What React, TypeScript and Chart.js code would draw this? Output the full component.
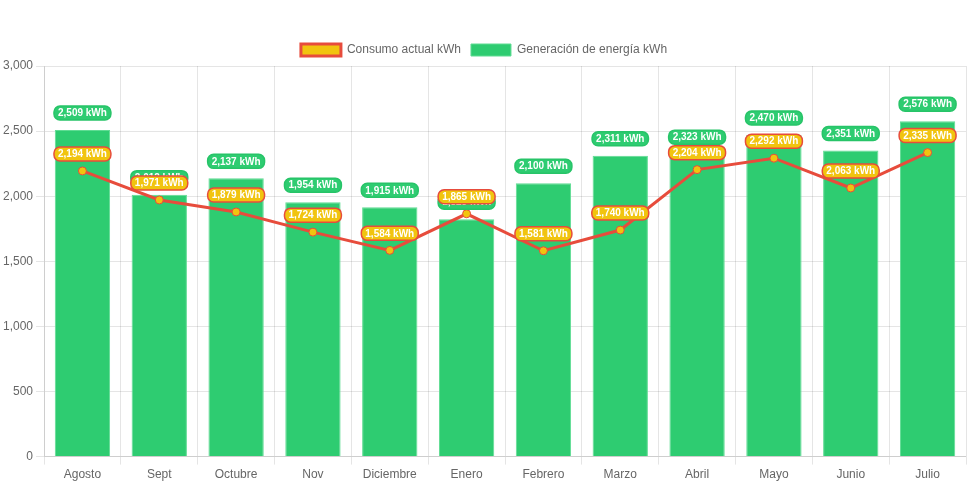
import React, { useEffect, useRef } from "react";
import { Chart, registerables } from "chart.js";

Chart.register(...registerables);

const months = ["Agosto", "Sept", "Octubre", "Nov", "Diciembre", "Enero", "Febrero", "Marzo", "Abril", "Mayo", "Junio", "Julio"];
const consumo = [2194, 1971, 1879, 1724, 1584, 1865, 1581, 1740, 2204, 2292, 2063, 2335];
const generacion = [2509, 2012, 2137, 1954, 1915, 1823, 2100, 2311, 2323, 2470, 2351, 2576];

const fmt = (v: number) => v.toLocaleString("en-US") + " kWh";

const labelPlugin = {
  id: "pillLabels",
  afterDatasetsDraw(chart: any) {
    const ctx = chart.ctx as CanvasRenderingContext2D;
    const order = [1, 0];
    ctx.save();
    ctx.font = "bold 10px 'Helvetica Neue', Helvetica, Arial, sans-serif";
    ctx.textAlign = "center";
    ctx.textBaseline = "middle";
    for (const di of order) {
      const meta = chart.getDatasetMeta(di);
      const ds = chart.data.datasets[di];
      const fill = di === 1 ? "#2ecc71" : "#f1c40f";
      const stroke = di === 1 ? "#27c468" : "#e74c3c";
      meta.data.forEach((el: any, i: number) => {
        const text = fmt(ds.data[i] as number);
        const w = ctx.measureText(text).width + 8;
        const h = 14;
        const cx = el.x;
        const cy = el.y - 17;
        ctx.beginPath();
        (ctx as any).roundRect(cx - w / 2, cy - h / 2, w, h, 6);
        ctx.fillStyle = fill;
        ctx.fill();
        ctx.lineWidth = 1.5;
        ctx.strokeStyle = stroke;
        ctx.stroke();
        ctx.fillStyle = "#ffffff";
        ctx.fillText(text, cx, cy + 0.5);
      });
    }
    ctx.restore();
  },
};

export default function App() {
  const ref = useRef<HTMLCanvasElement | null>(null);
  useEffect(() => {
    if (!ref.current) return;
    const chart = new Chart(ref.current, {
      type: "bar",
      data: {
        labels: months,
        datasets: [
          {
            type: "line",
            label: "Consumo actual kWh",
            data: consumo,
            borderColor: "#e74c3c",
            backgroundColor: "#f1c40f",
            borderWidth: 3,
            pointRadius: 4,
            pointBackgroundColor: "#f1c40f",
            pointBorderColor: "#e74c3c",
            pointBorderWidth: 1,
            tension: 0,
          } as any,
          {
            type: "bar",
            label: "Generación de energía kWh",
            data: generacion,
            backgroundColor: "#2ecc71",
            borderColor: "#5fdc93",
            borderWidth: 1,
          },
        ],
      },
      options: {
        animation: false,
        responsive: true,
        maintainAspectRatio: false,
        layout: { padding: { top: 34, bottom: 0, left: 0, right: 3 } },
        plugins: {
          legend: { position: "top" },
          tooltip: { enabled: false },
        },
        scales: {
          y: {
            min: 0,
            max: 3000,
            ticks: { stepSize: 500 },
          },
          x: {},
        },
      },
      plugins: [labelPlugin],
    });
    return () => chart.destroy();
  }, []);
  return (
    <div style={{ position: "absolute", left: 0, top: 0, width: 971, height: 485 }}>
      <canvas ref={ref} />
    </div>
  );
}
